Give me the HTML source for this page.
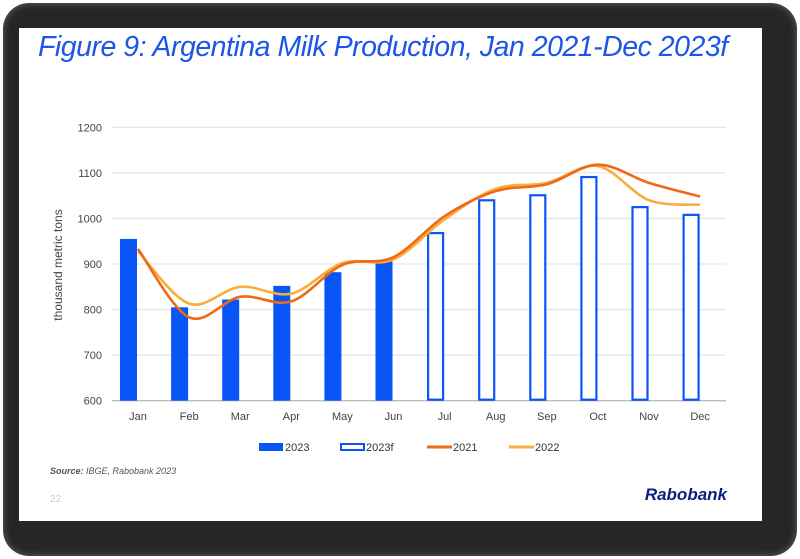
<!DOCTYPE html>
<html><head><meta charset="utf-8"><style>
html,body{margin:0;padding:0;background:#fff;}
body{width:800px;height:559px;position:relative;overflow:hidden;font-family:"Liberation Sans",sans-serif;}
#frame{position:absolute;left:3px;top:3px;width:794px;height:553px;border-radius:26px;background:#262626;box-shadow:inset 0 0 8px #666;}
#slide{position:absolute;left:19px;top:28px;width:743px;height:493px;background:#fff;}
#title{position:absolute;left:38px;top:31px;font-size:29px;line-height:32px;font-style:italic;color:#1c55e8;letter-spacing:-0.5px;white-space:nowrap;transform-origin:0 0;}
svg{position:absolute;left:0;top:0;}
</style></head><body>
<div id="frame"></div>
<div id="slide"></div>
<div id="title">Figure 9: Argentina Milk Production, Jan 2021-Dec 2023f</div>
<svg id="chart" width="800" height="559"></svg>
<script>
const months=["Jan","Feb","Mar","Apr","May","Jun","Jul","Aug","Sep","Oct","Nov","Dec"];
const actual2023=[955,805,822,852,882,906,null,null,null,null,null,null];
const forecast2023=[null,null,null,null,null,null,970,1042,1053,1093,1027,1010];
const series2021=[933,783,828,818,898,915,1005,1060,1075,1118,1078,1048];
const series2022=[928,813,850,835,902,910,998,1065,1078,1115,1040,1030];
const yTicks=[600,700,800,900,1000,1100,1200];

const ttl=document.getElementById('title');
ttl.style.transform='scaleX('+(690/ttl.offsetWidth)+')';

const svg=document.getElementById('chart');
const NS='http://www.w3.org/2000/svg';
const y0=400.7,y1=127.3,vmin=600,vmax=1200;
function yScale(v){return y0-(v-vmin)/(vmax-vmin)*(y0-y1);}
function xScale(i){return 138+i*51.1;}
function mk(tag,attrs){const e=document.createElementNS(NS,tag);for(const k in attrs)e.setAttribute(k,attrs[k]);svg.appendChild(e);return e;}

yTicks.forEach(t=>{
  const l=mk('line',{x1:112,x2:726,y1:yScale(t),y2:yScale(t),stroke:t===600?'#bdbdbd':'#e6e6e6','stroke-width':1.3});
  
  
  const tx=mk('text',{x:102,y:yScale(t)+4,'text-anchor':'end','font-size':11,fill:'#444'});
  tx.textContent=t;
  
  
});
months.forEach((m,i)=>{
  const tx=mk('text',{x:xScale(i),y:420,'text-anchor':'middle','font-size':11,fill:'#444'});
  tx.textContent=m;
  
  
});
const yt=mk('text',{x:0,y:0,'text-anchor':'middle','font-size':12,fill:'#444',transform:'translate(62,265) rotate(-90)'});
yt.textContent='thousand metric tons';



actual2023.forEach((v,i)=>{
  if(v==null)return;
  const r=mk('rect',{x:xScale(i)-18,y:yScale(v),width:17,height:y0-yScale(v),fill:'#0a55f5'});
  
  
});
forecast2023.forEach((v,i)=>{
  if(v==null)return;
  const r=mk('rect',{x:xScale(i)-16.5,y:yScale(v)+1,width:15,height:y0-yScale(v)-2,fill:'#fff',stroke:'#0a55f5','stroke-width':2.2});
  
  
});
function smooth(vals){
  const p=vals.map((v,i)=>[xScale(i),yScale(v)]);
  let d='M'+p[0][0]+','+p[0][1];
  for(let i=0;i<p.length-1;i++){
    const a=p[i-1]||p[i],b=p[i],c=p[i+1],e=p[i+2]||c;
    const c1=[b[0]+(c[0]-a[0])/6,b[1]+(c[1]-a[1])/6],c2=[c[0]-(e[0]-b[0])/6,c[1]-(e[1]-b[1])/6];
    d+=' C'+c1[0]+','+c1[1]+' '+c2[0]+','+c2[1]+' '+c[0]+','+c[1];
  }
  return d;
}
const l22=mk('path',{d:smooth(series2022),fill:'none',stroke:'#f9ad3a','stroke-width':2.6});


const l21=mk('path',{d:smooth(series2021),fill:'none',stroke:'#ee6a15','stroke-width':2.6});



const lg=[['2023','solid',259],['2023f','hollow',340],['2021','#ee6a15',427],['2022','#f9ad3a',509]];
lg.forEach(([lab,kind,x])=>{
  let m;
  if(kind==='solid')m=mk('rect',{x:x,y:443,width:24,height:8,fill:'#0a55f5'});
  else if(kind==='hollow')m=mk('rect',{x:x+1,y:444,width:23,height:6,fill:'#fff',stroke:'#0a55f5','stroke-width':2});
  else m=mk('line',{x1:x,x2:x+25,y1:447,y2:447,stroke:kind,'stroke-width':3});
  
  
  const t=mk('text',{x:x+26,y:451,'font-size':11,fill:'#333'});
  t.textContent=lab;
  
  
});
const src=mk('text',{x:50,y:474,'font-size':9,'font-style':'italic',fill:'#555'});
src.innerHTML='<tspan font-weight="bold">Source:</tspan> IBGE, Rabobank 2023';


const pg=mk('text',{x:50,y:502,'font-size':10,fill:'#ccc'});
pg.textContent='22';


const rb=mk('text',{x:727,y:500,'text-anchor':'end','font-size':17,'font-weight':'bold','font-style':'italic',fill:'#0d1f7a'});
rb.textContent='Rabobank';


</script>
</body></html>
